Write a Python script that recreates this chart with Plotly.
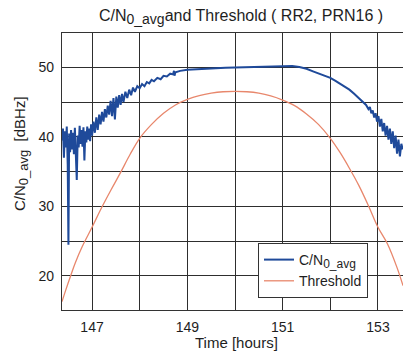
import plotly.graph_objects as go

# Time axis in hours; receiver C/N0 average (noisy at low elevation)
cn0_time = [
    146.37, 146.39, 146.41, 146.43, 146.45, 146.47, 146.49, 146.505, 146.52, 146.54,
    146.56, 146.58, 146.60, 146.62, 146.64, 146.66, 146.68, 146.70, 146.72, 146.74,
    146.76, 146.78, 146.80, 146.82, 146.84, 146.86, 146.88, 146.90, 146.92, 146.94,
    146.96, 146.98, 147.00, 147.03, 147.06, 147.09, 147.12, 147.15, 147.18, 147.21,
    147.24, 147.27, 147.30, 147.33, 147.36, 147.39, 147.42, 147.45, 147.48, 147.51,
    147.54, 147.57, 147.60, 147.63, 147.66, 147.70, 147.74, 147.78, 147.82, 147.86,
    147.90, 147.95, 148.00, 148.05, 148.10, 148.15, 148.20, 148.25, 148.30, 148.37,
    148.44, 148.50, 148.57, 148.64, 148.70, 148.72, 148.73, 148.75, 148.85, 149.00,
    149.20, 149.40, 149.60, 149.80, 150.00, 150.20, 150.40, 150.60, 150.80, 151.00,
    151.20, 151.35, 151.50, 151.65, 151.80, 151.90, 152.00, 152.10, 152.20, 152.30,
    152.40, 152.50, 152.60, 152.65, 152.70, 152.75, 152.80, 152.83, 152.86, 152.89,
    152.92, 152.95, 152.98, 153.01, 153.04, 153.07, 153.10, 153.13, 153.16, 153.19,
    153.22, 153.25, 153.28, 153.31, 153.34, 153.37, 153.40, 153.43, 153.46, 153.49,
    153.52,
]
cn0_avg = [
    39.5, 41.2, 37.0, 40.8, 38.5, 41.5, 36.0, 24.5, 40.5, 37.8,
    41.0, 38.2, 40.6, 37.5, 41.3, 38.0, 33.8, 40.2, 38.5, 41.6,
    39.0, 41.0, 38.6, 41.4, 36.6, 40.8, 39.2, 41.5, 39.6, 41.2,
    39.4, 41.8, 40.2, 42.2, 40.6, 42.8, 41.0, 43.2, 41.8, 43.6,
    42.2, 44.0, 42.8, 44.5, 43.2, 45.2, 43.0, 45.6, 42.5, 45.8,
    44.2, 46.0, 44.6, 46.2, 45.0, 46.5, 45.6, 46.8, 46.0, 47.1,
    46.5, 47.3, 47.0, 47.6, 47.3, 47.9, 47.7, 48.2, 48.0, 48.5,
    48.3, 48.8, 48.7, 49.1, 49.0, 49.5, 48.8, 49.3, 49.5, 49.65,
    49.75, 49.85, 49.9, 49.95, 50.0, 50.05, 50.1, 50.15, 50.2, 50.25,
    50.2, 50.05, 49.8, 49.4, 49.0, 48.8, 48.5, 48.1, 47.7, 47.3,
    46.8, 46.2, 45.5, 45.2, 44.9, 44.6, 44.0, 44.3, 43.4, 43.8,
    42.8, 43.4, 42.2, 43.0, 41.5, 42.6, 40.8, 42.0, 40.2, 41.6,
    39.6, 41.2, 39.0, 40.8, 38.4, 40.2, 37.6, 39.6, 37.2, 39.0,
    38.2,
]

# Detection threshold over the same pass
thr_time = [
    146.37, 146.45, 146.55, 146.65, 146.8, 147.0, 147.2, 147.4, 147.6, 147.8,
    148.0, 148.25, 148.5, 148.75, 149.0, 149.25, 149.5, 149.75, 150.0, 150.25,
    150.5, 150.75, 151.0, 151.25, 151.5, 151.75, 152.0, 152.2, 152.4, 152.6,
    152.8, 153.0, 153.2, 153.4, 153.525,
]
threshold = [
    16.3, 18.0, 20.0, 21.9, 24.3, 27.0, 29.8, 32.4, 34.9, 37.5,
    39.8, 41.8, 43.4, 44.6, 45.4, 45.95, 46.3, 46.5, 46.55, 46.5,
    46.3, 45.9, 45.3, 44.5, 43.3, 41.8, 39.8, 37.8, 35.5, 33.0,
    30.1, 27.0, 24.6, 21.2, 18.6,
]

x_ticks = [147, 148, 149, 150, 151, 152, 153]
x_labels = ["147", "", "149", "", "151", "", "153"]
y_ticks = [20, 25, 30, 35, 40, 45, 50]
y_labels = ["20", "", "30", "", "40", "", "50"]

FONT = "Liberation Sans, Arial, sans-serif"
GRID = "#2e2e2e"
INK = "#1e1e1e"


def cn0(size):
    # "C/N" with a lowered, nearly full-size "0_avg"
    return f"C/N<sub><span style='font-size:{size}px'>0_avg</span></sub>"


fig = go.Figure()
fig.add_trace(go.Scatter(
    x=cn0_time, y=cn0_avg, mode="lines", name=cn0(12),
    line=dict(color="#1f4a9a", width=2),
))
fig.add_trace(go.Scatter(
    x=thr_time, y=threshold, mode="lines", name="Threshold", line_shape="spline",
    line=dict(color="#e8876c", width=1.3),
))

# plot area spans x 62..403 px, y 33..310 px
L, T, W, H = 62, 33, 341, 277


def px(xp, yp):
    return (xp - L) / W, (T + H - yp) / H


ylab_x, ylab_y = px(21, 154)
xlab_x, xlab_y = px(236, 342)

fig.update_layout(
    width=403, height=351,
    margin=dict(l=L, r=0, t=T, b=351 - T - H),
    paper_bgcolor="white", plot_bgcolor="white",
    font=dict(family=FONT, size=14, color=INK),
    showlegend=True,
    title=dict(
        text=cn0(14) + "and Threshold ( RR2, PRN16 )",
        x=241 / 403, xref="container", xanchor="center",
        y=1 - 15 / 351, yref="container", yanchor="middle",
        font=dict(family=FONT, size=16, color=INK),
    ),
    legend=dict(
        x=(258 - L) / W, y=(T + H - 243) / H, xanchor="left", yanchor="top",
        bgcolor="white", bordercolor="#333333", borderwidth=1,
        font=dict(family=FONT, size=14, color=INK),
        itemwidth=30, tracegroupgap=0,
    ),
    xaxis=dict(
        range=[146.37, 153.525], tickvals=x_ticks, ticktext=x_labels,
        showgrid=True, gridcolor=GRID, gridwidth=1.4, zeroline=False,
        showline=True, linecolor="#333333", linewidth=1.4, mirror=True,
        ticks="", ticklabelstandoff=4,
    ),
    yaxis=dict(
        range=[15.1, 54.95], tickvals=y_ticks, ticktext=y_labels,
        showgrid=True, gridcolor=GRID, gridwidth=1.4, zeroline=False,
        showline=True, linecolor="#333333", linewidth=1.4, mirror=False,
        ticks="", ticklabelstandoff=4,
    ),
    annotations=[
        dict(text=cn0(13) + "  [dBHz]", xref="paper", yref="paper",
             x=ylab_x, y=ylab_y, textangle=-90, showarrow=False,
             xanchor="center", yanchor="middle",
             font=dict(family=FONT, size=15, color=INK)),
        dict(text="Time [hours]", xref="paper", yref="paper",
             x=xlab_x, y=xlab_y, showarrow=False,
             xanchor="center", yanchor="middle",
             font=dict(family=FONT, size=15, color=INK)),
    ],
)

fig.write_html("out.html")
